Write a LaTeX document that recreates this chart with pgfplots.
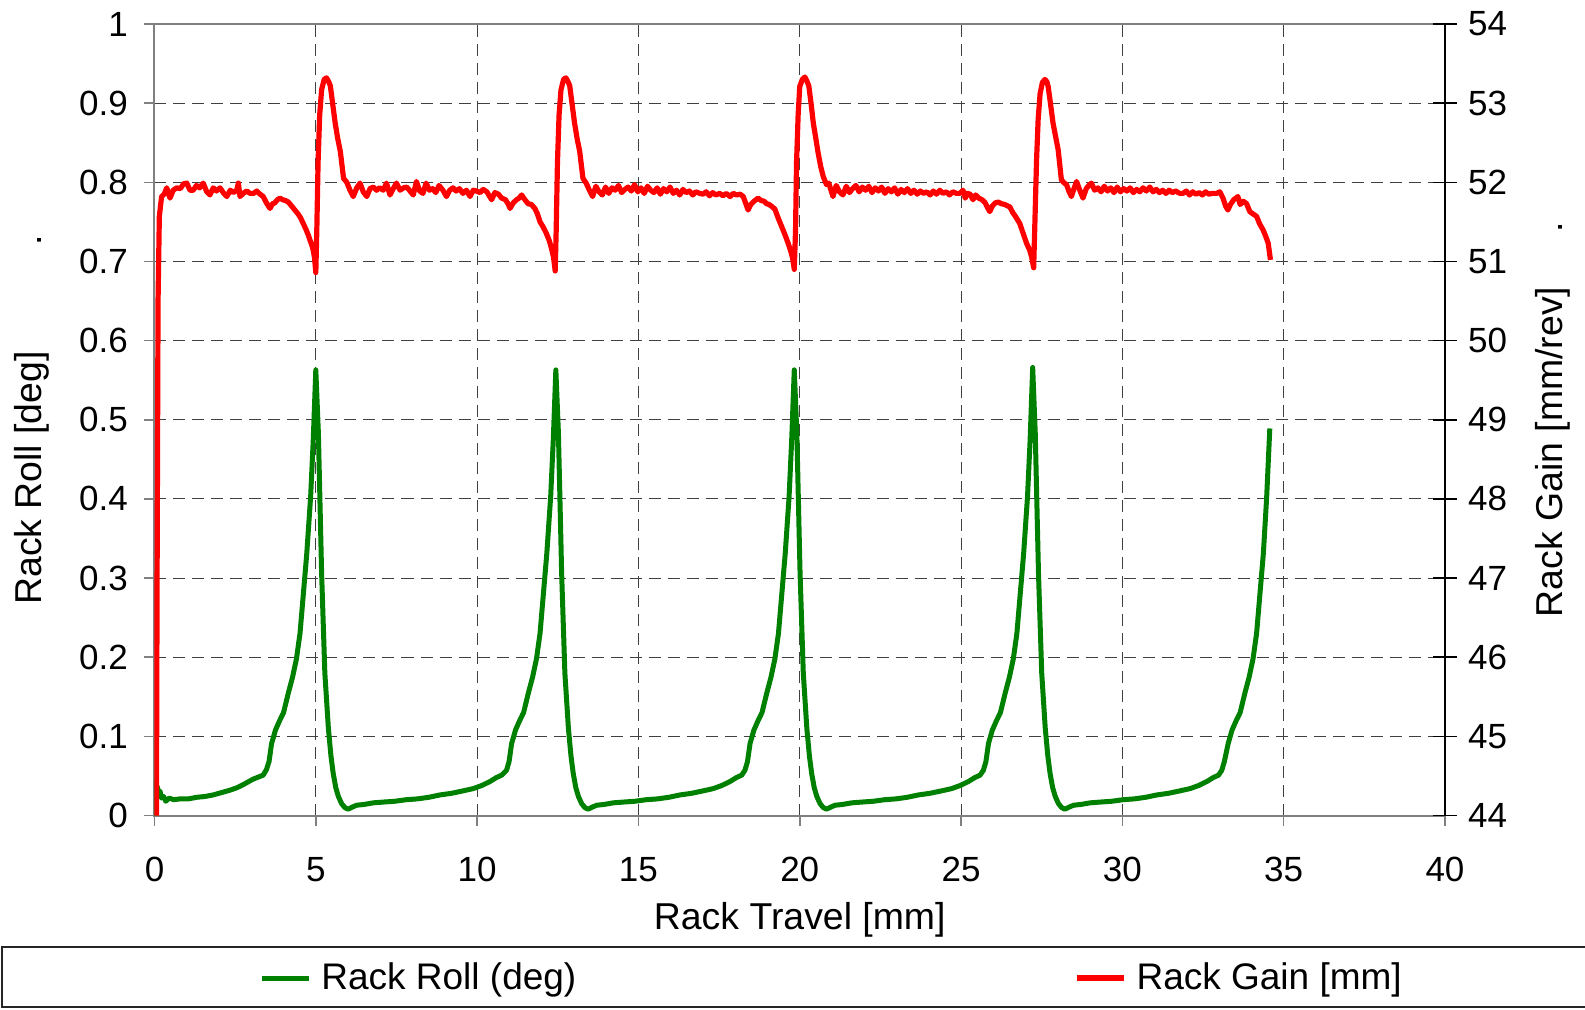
\documentclass[border=0pt]{standalone}
\usepackage{fontspec}
\setmainfont{Liberation Sans}
\usepackage{pgfplots}
\pgfplotsset{compat=1.18}
\definecolor{rollgreen}{HTML}{008000}
\definecolor{gainred}{HTML}{FF0000}
\begin{document}
\begin{tikzpicture}
\pgfplotsset{
 common/.style={
  scale only axis, width=645.25pt, height=395.75pt,
  at={(0pt,0pt)}, anchor=south west,
  xmin=0, xmax=40,
  /pgf/number format/assume math mode=true,
  tick label style={font=\fontsize{17.5}{21}\selectfont},
  label style={font=\fontsize{18.7}{22}\selectfont},
  legend image code/.code={\draw[#1] (0pt,0pt) -- (23.5pt,0pt);},
 }
}
\begin{axis}[common,
  ymin=0, ymax=1,
  xtick={0,5,10,15,20,25,30,35,40},
  ytick={0,0.1,0.2,0.3,0.4,0.5,0.6,0.7,0.8,0.9,1},
  yticklabels={0,0.1,0.2,0.3,0.4,0.5,0.6,0.7,0.8,0.9,1},
  xtick pos=left, ytick pos=left,
  tick align=outside,
  major tick length=5.35pt,
  tick style={gray, line width=0.75pt},
  axis line style={gray, line width=1pt},
  xticklabel style={yshift=-12pt},
  yticklabel style={xshift=-4.5pt},
  grid=major,
  major grid style={black!75, line width=0.5pt, dash pattern=on 6pt off 3.5pt},
  xlabel={Rack Travel [mm]},
  xlabel style={at={(axis description cs:0.5,-0.132)}, anchor=center},
  ylabel={Rack Roll [deg]\hspace{53pt}.},
  ylabel style={at={(axis description cs:-0.0949,0.5)}, anchor=center},
  legend style={at={(0.0810,-0.2053)}, anchor=west, draw=none, fill=none,
    font=\fontsize{18.5}{22}\selectfont, inner sep=0pt, nodes={inner sep=0pt}, column sep=5pt},
]
\addplot[rollgreen, line width=2.5pt, line join=round] coordinates {
(0,0.000) (0.01,0.041) (0.05,0.026) (0.09,0.036) (0.13,0.027) (0.17,0.031) (0.22,0.022) (0.28,0.024)
(0.35,0.018) (0.45,0.022) (0.60,0.020) (0.79,0.021) (1.05,0.021) (1.31,0.023) (1.56,0.024) (1.82,0.026)
(2.08,0.029) (2.34,0.032) (2.55,0.035) (2.75,0.039) (3.06,0.046) (3.37,0.051) (3.47,0.058) (3.55,0.068)
(3.63,0.091) (3.75,0.108) (3.88,0.120) (4.00,0.130) (4.15,0.155) (4.28,0.175) (4.40,0.198) (4.51,0.230)
(4.61,0.278) (4.72,0.331) (4.84,0.403) (4.92,0.474) (5.00,0.563) (5.08,0.483) (5.18,0.306) (5.28,0.180)
(5.39,0.110) (5.47,0.075) (5.54,0.053) (5.62,0.035) (5.70,0.024) (5.80,0.015) (5.90,0.010) (6.00,0.008)
(6.15,0.011) (6.27,0.013) (6.50,0.014) (6.78,0.016) (7.10,0.017) (7.45,0.018) (7.81,0.020) (8.15,0.021)
(8.50,0.023) (8.85,0.026) (9.20,0.028) (9.55,0.031) (9.88,0.034) (10.15,0.038) (10.40,0.043) (10.60,0.048)
(10.76,0.051) (10.91,0.057) (10.99,0.068)
(11.07,0.091) (11.19,0.108) (11.32,0.120) (11.44,0.130) (11.59,0.155) (11.72,0.175) (11.84,0.198) (11.95,0.230)
(12.05,0.278) (12.16,0.331) (12.28,0.403) (12.36,0.474) (12.44,0.563) (12.52,0.483) (12.62,0.306) (12.72,0.180)
(12.83,0.110) (12.91,0.075) (12.98,0.053) (13.06,0.035) (13.14,0.024) (13.24,0.015) (13.34,0.010) (13.44,0.008)
(13.59,0.011) (13.71,0.013) (13.94,0.014) (14.22,0.016) (14.54,0.017) (14.89,0.018) (15.25,0.020) (15.59,0.021)
(15.94,0.023) (16.29,0.026) (16.64,0.028) (16.99,0.031) (17.32,0.034) (17.59,0.038) (17.84,0.043) (18.04,0.048)
(18.20,0.051) (18.30,0.057) (18.38,0.068)
(18.46,0.091) (18.58,0.108) (18.71,0.120) (18.83,0.130) (18.98,0.155) (19.11,0.175) (19.23,0.198) (19.34,0.230)
(19.44,0.278) (19.55,0.331) (19.67,0.403) (19.75,0.474) (19.83,0.563) (19.91,0.483) (20.01,0.306) (20.11,0.180)
(20.22,0.110) (20.30,0.075) (20.37,0.053) (20.45,0.035) (20.53,0.024) (20.63,0.015) (20.73,0.010) (20.83,0.008)
(20.98,0.011) (21.10,0.013) (21.33,0.014) (21.61,0.016) (21.93,0.017) (22.28,0.018) (22.64,0.020) (22.98,0.021)
(23.33,0.023) (23.68,0.026) (24.03,0.028) (24.38,0.031) (24.71,0.034) (24.98,0.038) (25.23,0.043) (25.43,0.048)
(25.59,0.051) (25.69,0.057) (25.77,0.068)
(25.85,0.091) (25.97,0.108) (26.10,0.120) (26.22,0.130) (26.37,0.155) (26.50,0.175) (26.62,0.198) (26.73,0.230)
(26.83,0.278) (26.94,0.331) (27.06,0.403) (27.14,0.474) (27.22,0.566) (27.30,0.483) (27.40,0.306) (27.50,0.180)
(27.61,0.110) (27.69,0.075) (27.76,0.053) (27.84,0.035) (27.92,0.024) (28.02,0.015) (28.12,0.010) (28.22,0.008)
(28.37,0.011) (28.49,0.013) (28.72,0.014) (29.00,0.016) (29.32,0.017) (29.67,0.018) (30.03,0.020) (30.37,0.021)
(30.72,0.023) (31.07,0.026) (31.42,0.028) (31.77,0.031) (32.10,0.034) (32.37,0.038) (32.62,0.043) (32.82,0.048)
(32.98,0.051) (33.08,0.057) (33.16,0.068)
(33.28,0.091) (33.40,0.108) (33.53,0.120) (33.65,0.130) (33.80,0.155) (33.93,0.175) (34.05,0.198) (34.16,0.230)
(34.26,0.278) (34.37,0.331) (34.47,0.400) (34.57,0.489)
};
\addlegendentry{Rack Roll (deg)}
\end{axis}
\begin{axis}[common,
  ymin=44, ymax=54,
  ytick={44,45,46,47,48,49,50,51,52,53,54},
  axis x line=none, axis y line*=right, ytick pos=right,
  tick align=center, major tick length=12pt,
  tick style={black, line width=0.75pt},
  axis line style={black, line width=0.75pt},
  yticklabel style={xshift=2pt},
  ylabel={Rack Gain [mm/rev]\hspace{27pt}.},
  ylabel style={at={(axis description cs:1.0837,0.5)}, anchor=center},
  legend style={at={(0.7125,-0.2053)}, anchor=west, draw=none, fill=none,
    font=\fontsize{18.5}{22}\selectfont, inner sep=0pt, nodes={inner sep=0pt}, column sep=5pt},
]
\addplot[gainred, line width=2.6pt, line join=round] coordinates {
(0.06,44.0) (0.08,47.0) (0.11,50.5) (0.15,51.57) (0.22,51.82) (0.30,51.85) (0.38,51.93) (0.48,51.80)
(0.58,51.90) (0.69,51.93) (0.80,51.92) (0.90,51.98) (1.00,51.99) (1.10,51.90) (1.20,51.90) (1.30,51.96)
(1.40,51.93) (1.51,51.99) (1.62,51.88) (1.72,51.84) (1.82,51.93) (1.92,51.89) (2.03,51.93) (2.13,51.87)
(2.24,51.82) (2.35,51.90) (2.45,51.87) (2.55,51.90) (2.60,51.99) (2.65,51.82) (2.75,51.86) (2.86,51.89)
(2.96,51.86) (3.07,51.86) (3.17,51.89) (3.27,51.85) (3.37,51.82) (3.47,51.74) (3.58,51.67) (3.66,51.73)
(3.73,51.74) (3.81,51.78) (3.89,51.80) (3.97,51.78) (4.06,51.77) (4.15,51.75) (4.25,51.70) (4.35,51.65)
(4.45,51.60) (4.53,51.55) (4.61,51.48) (4.70,51.40) (4.77,51.33) (4.82,51.27) (4.88,51.20) (4.92,51.14)
(4.96,51.05) (5.00,50.86) (5.03,51.38) (5.07,52.25) (5.12,52.85) (5.18,53.17) (5.26,53.30) (5.33,53.32)
(5.40,53.27) (5.45,53.22) (5.52,53.00) (5.60,52.75) (5.68,52.55) (5.76,52.39) (5.86,52.05) (5.96,52.00)
(6.06,51.90) (6.16,51.82) (6.27,51.93) (6.37,51.99) (6.47,51.88) (6.58,51.82) (6.68,51.92) (6.78,51.94)
(6.88,51.90) (6.98,51.93) (7.09,51.90) (7.19,51.99) (7.30,51.84) (7.40,51.92) (7.50,51.99) (7.61,51.90)
(7.72,51.93) (7.82,51.94) (7.92,51.89) (8.02,51.84) (8.12,52.01) (8.22,51.89) (8.32,51.86) (8.42,51.99)
(8.52,51.90) (8.62,51.92) (8.72,51.87) (8.82,51.96) (8.94,51.90) (9.05,51.82) (9.15,51.90) (9.25,51.93)
(9.35,51.89) (9.45,51.92) (9.56,51.86) (9.67,51.90) (9.78,51.82) (9.88,51.90) (9.98,51.89) (10.09,51.87)
(10.19,51.91) (10.30,51.88) (10.45,51.78) (10.55,51.87) (10.66,51.85) (10.76,51.80) (10.88,51.78)
(10.97,51.72) (11.02,51.67) (11.12,51.74) (11.22,51.78) (11.30,51.80) (11.38,51.84) (11.48,51.78) (11.58,51.73)
(11.68,51.72) (11.79,51.67) (11.87,51.60) (11.95,51.50) (12.04,51.44) (12.14,51.36) (12.24,51.26) (12.32,51.14)
(12.37,51.05) (12.42,50.88) (12.45,51.38) (12.49,52.25) (12.54,52.85) (12.60,53.17) (12.68,53.30) (12.75,53.32)
(12.82,53.27) (12.87,53.22) (12.94,53.00) (13.02,52.75) (13.10,52.55) (13.18,52.39) (13.28,52.05) (13.38,51.99)
(13.48,51.90) (13.58,51.82) (13.68,51.95) (13.78,51.88) (13.88,51.84) (13.98,51.94) (14.08,51.86) (14.18,51.93)
(14.28,51.90) (14.38,51.96) (14.48,51.87) (14.58,51.91) (14.68,51.94) (14.78,51.89) (14.88,51.97) (14.98,51.88)
(15.08,51.93) (15.18,51.86) (15.28,51.95) (15.38,51.90) (15.48,51.87) (15.58,51.93) (15.68,51.85) (15.78,51.92)
(15.88,51.88) (15.98,51.94) (16.08,51.86) (16.18,51.90) (16.28,51.84) (16.38,51.91) (16.48,51.87) (16.58,51.89)
(16.68,51.84) (16.78,51.88) (16.90,51.86) (17.00,51.85) (17.10,51.88) (17.20,51.83) (17.30,51.87) (17.40,51.84)
(17.52,51.86) (17.62,51.83) (17.72,51.86) (17.84,51.82) (17.94,51.86) (18.04,51.84) (18.15,51.85) (18.25,51.82)
(18.32,51.74) (18.40,51.65) (18.48,51.72) (18.58,51.76) (18.71,51.80) (18.80,51.77) (18.90,51.76) (18.97,51.73)
(19.05,51.72) (19.15,51.69) (19.23,51.66) (19.32,51.56) (19.44,51.44) (19.54,51.34) (19.64,51.23) (19.72,51.13)
(19.78,51.04) (19.83,50.90) (19.87,51.40) (19.90,52.24) (19.95,52.85) (20.00,53.21) (20.08,53.30) (20.16,53.33)
(20.22,53.28) (20.28,53.22) (20.35,53.00) (20.42,52.75) (20.50,52.55) (20.57,52.37) (20.65,52.20) (20.73,52.07)
(20.83,51.97) (20.90,51.99) (21.03,51.82) (21.13,51.96) (21.23,51.88) (21.34,51.84) (21.44,51.95) (21.54,51.87)
(21.64,51.92) (21.74,51.96) (21.84,51.88) (21.94,51.94) (22.04,51.90) (22.14,51.95) (22.24,51.87) (22.34,51.93)
(22.44,51.89) (22.54,51.94) (22.64,51.86) (22.74,51.92) (22.84,51.88) (22.94,51.93) (23.04,51.85) (23.14,51.91)
(23.24,51.87) (23.34,51.92) (23.44,51.86) (23.54,51.90) (23.64,51.85) (23.74,51.89) (23.84,51.86) (23.94,51.88)
(24.04,51.84) (24.14,51.89) (24.24,51.85) (24.34,51.90) (24.44,51.86) (24.54,51.88) (24.64,51.84) (24.74,51.88)
(24.86,51.86) (24.96,51.86) (25.06,51.90) (25.13,51.80) (25.20,51.86) (25.28,51.85) (25.37,51.78) (25.45,51.84)
(25.55,51.80) (25.65,51.78) (25.75,51.74) (25.82,51.68) (25.89,51.63) (25.97,51.70) (26.06,51.74) (26.15,51.75)
(26.25,51.73) (26.35,51.72) (26.45,51.70) (26.51,51.69) (26.60,51.62) (26.70,51.56) (26.82,51.48) (26.92,51.36)
(27.03,51.23) (27.13,51.14) (27.19,51.05) (27.25,50.92) (27.28,51.36) (27.34,52.28) (27.39,52.80) (27.45,53.12)
(27.52,53.26) (27.60,53.30) (27.66,53.27) (27.70,53.21) (27.77,53.00) (27.85,52.75) (27.93,52.58) (28.01,52.41)
(28.11,52.03) (28.20,51.99) (28.27,51.97) (28.35,51.88) (28.42,51.82) (28.50,51.92) (28.58,52.01) (28.68,51.90)
(28.78,51.80) (28.88,51.92) (28.96,51.96) (29.04,51.99) (29.14,51.90) (29.24,51.93) (29.34,51.88) (29.44,51.95)
(29.54,51.89) (29.64,51.93) (29.74,51.87) (29.84,51.94) (29.94,51.88) (30.04,51.92) (30.14,51.89) (30.24,51.93)
(30.34,51.87) (30.44,51.91) (30.54,51.88) (30.64,51.93) (30.74,51.89) (30.85,51.94) (30.95,51.88) (31.05,51.91)
(31.15,51.87) (31.25,51.90) (31.35,51.86) (31.45,51.90) (31.55,51.87) (31.65,51.89) (31.78,51.86) (31.88,51.86)
(31.98,51.89) (32.08,51.84) (32.18,51.88) (32.28,51.85) (32.38,51.87) (32.48,51.84) (32.58,51.88) (32.68,51.85)
(32.78,51.86) (32.92,51.86) (33.02,51.88) (33.12,51.80) (33.20,51.70) (33.27,51.65) (33.35,51.72) (33.45,51.78)
(33.52,51.80) (33.58,51.82) (33.65,51.72) (33.75,51.76) (33.85,51.73) (33.95,51.63) (34.05,51.60) (34.16,51.57)
(34.26,51.47) (34.36,51.40) (34.44,51.32) (34.52,51.23) (34.59,51.02)
};
\addlegendentry{Rack Gain [mm]}
\end{axis}
\draw[black!85, line width=0.75pt] (-76.25pt,-65.75pt) rectangle (716pt,-95.75pt);
\pgfresetboundingbox
\path (-77.25pt,-96.75pt) rectangle (715.25pt,407.75pt);
\end{tikzpicture}
\end{document}
